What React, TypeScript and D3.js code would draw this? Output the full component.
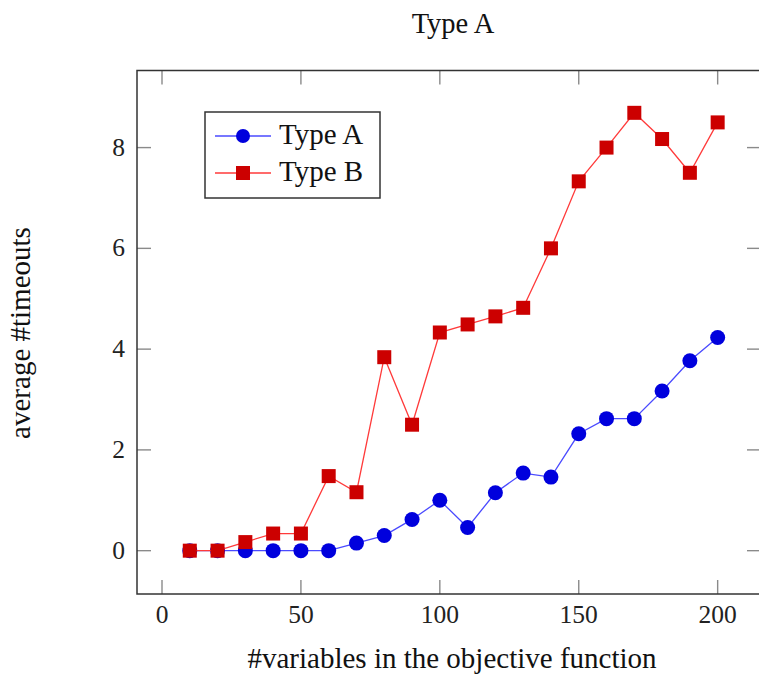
import React, { useEffect, useRef } from 'react';
import * as d3 from 'd3';

// #variables in the objective function
const xs = [10, 20, 30, 40, 50, 60, 70, 80, 90, 100, 110, 120, 130, 140, 150, 160, 170, 180, 190, 200];
const typeA = [0, 0, 0, 0, 0, 0, 0.15, 0.3, 0.62, 1.0, 0.46, 1.15, 1.54, 1.46, 2.32, 2.62, 2.62, 3.17, 3.77, 4.23];
const typeB = [0, 0, 0.17, 0.34, 0.34, 1.48, 1.16, 3.84, 2.5, 4.33, 4.49, 4.65, 4.82, 6.0, 7.33, 8.0, 8.69, 8.17, 7.5, 8.5];
const xTicks = [0, 50, 100, 150, 200];
const yTicks = [0, 2, 4, 6, 8];

const W = 759;
const H = 680;
const serif = '"Liberation Serif", "Times New Roman", serif';

const App = () => {
    const ref = useRef<SVGSVGElement>(null);

    useEffect(() => {
        const svg = d3.select(ref.current);
        svg.selectAll('*').remove();

        const frame = { left: 137, top: 70.5, right: 761, bottom: 594 };

        const x = d3.scaleLinear().domain([-9, 215.6]).range([frame.left, frame.right]);
        const y = d3.scaleLinear().domain([-0.86, 9.53]).range([frame.bottom, frame.top]);

        const tickLen = 14;
        const tickColor = '#8a8a8a';

        // ticks (inside, on all sides)
        const g = svg.append('g');
        xTicks.forEach(t => {
            g.append('line').attr('x1', x(t)).attr('x2', x(t))
                .attr('y1', frame.bottom).attr('y2', frame.bottom - tickLen)
                .attr('stroke', tickColor).attr('stroke-width', 1.4);
            g.append('line').attr('x1', x(t)).attr('x2', x(t))
                .attr('y1', frame.top).attr('y2', frame.top + tickLen)
                .attr('stroke', tickColor).attr('stroke-width', 1.4);
            g.append('text').attr('x', x(t)).attr('y', frame.bottom + 29)
                .attr('text-anchor', 'middle').attr('font-family', serif).attr('font-size', 25.5)
                .attr('fill', '#222').text(t);
        });
        yTicks.forEach(t => {
            g.append('line').attr('x1', frame.left).attr('x2', frame.left + tickLen)
                .attr('y1', y(t)).attr('y2', y(t))
                .attr('stroke', tickColor).attr('stroke-width', 1.4);
            g.append('line').attr('x1', frame.right).attr('x2', frame.right - tickLen)
                .attr('y1', y(t)).attr('y2', y(t))
                .attr('stroke', tickColor).attr('stroke-width', 1.4);
            g.append('text').attr('x', 125).attr('y', y(t) + 8)
                .attr('text-anchor', 'end').attr('font-family', serif).attr('font-size', 25.5)
                .attr('fill', '#222').text(t);
        });

        // frame
        svg.append('rect')
            .attr('x', frame.left).attr('y', frame.top)
            .attr('width', frame.right - frame.left).attr('height', frame.bottom - frame.top)
            .attr('fill', 'none').attr('stroke', '#333').attr('stroke-width', 1.5);

        const line = d3.line<number>().x((d, i) => x(xs[i])).y(d => y(d));

        // Type A (blue circles) drawn first, Type B on top
        svg.append('path').attr('d', line(typeA)).attr('fill', 'none')
            .attr('stroke', '#4a4aff').attr('stroke-width', 1.3);
        svg.selectAll('.dot').data(typeA).enter().append('circle')
            .attr('cx', (d, i) => x(xs[i])).attr('cy', d => y(d))
            .attr('r', 7.5).attr('fill', '#0000dd');

        // Type B (red squares)
        svg.append('path').attr('d', line(typeB)).attr('fill', 'none')
            .attr('stroke', '#ff3a3a').attr('stroke-width', 1.3);
        svg.selectAll('.sq').data(typeB).enter().append('rect')
            .attr('x', (d, i) => x(xs[i]) - 7).attr('y', d => y(d) - 7)
            .attr('width', 14).attr('height', 14).attr('fill', '#cc0000');

        // legend
        const lg = svg.append('g');
        lg.append('rect').attr('x', 205).attr('y', 112).attr('width', 175).attr('height', 86)
            .attr('fill', 'white').attr('stroke', '#333').attr('stroke-width', 1.5);
        lg.append('line').attr('x1', 215).attr('x2', 271).attr('y1', 136).attr('y2', 136)
            .attr('stroke', '#4a4aff').attr('stroke-width', 1.3);
        lg.append('circle').attr('cx', 243).attr('cy', 136).attr('r', 7).attr('fill', '#0000dd');
        lg.append('text').attr('x', 279).attr('y', 144).attr('font-family', serif)
            .attr('font-size', 29).attr('fill', '#111').text('Type A');
        lg.append('line').attr('x1', 215).attr('x2', 271).attr('y1', 173).attr('y2', 173)
            .attr('stroke', '#ff3a3a').attr('stroke-width', 1.3);
        lg.append('rect').attr('x', 236).attr('y', 166).attr('width', 14).attr('height', 14).attr('fill', '#cc0000');
        lg.append('text').attr('x', 279).attr('y', 181).attr('font-family', serif)
            .attr('font-size', 29).attr('fill', '#111').text('Type B');

        // title and axis labels
        svg.append('text').attr('x', 453).attr('y', 33).attr('text-anchor', 'middle')
            .attr('font-family', serif).attr('font-size', 28.5).attr('fill', '#111').text('Type A');
        svg.append('text').attr('x', 452).attr('y', 668).attr('text-anchor', 'middle')
            .attr('font-family', serif).attr('font-size', 29).attr('fill', '#111')
            .text('#variables in the objective function');
        svg.append('text').attr('transform', 'translate(30,333) rotate(-90)').attr('text-anchor', 'middle')
            .attr('font-family', serif).attr('font-size', 29).attr('fill', '#111')
            .text('average #timeouts');
    }, []);

    return (
        <svg ref={ref} width={W} height={H}
            style={{ position: 'absolute', left: 0, top: 0, background: 'white' }} />
    );
};

export default App;
